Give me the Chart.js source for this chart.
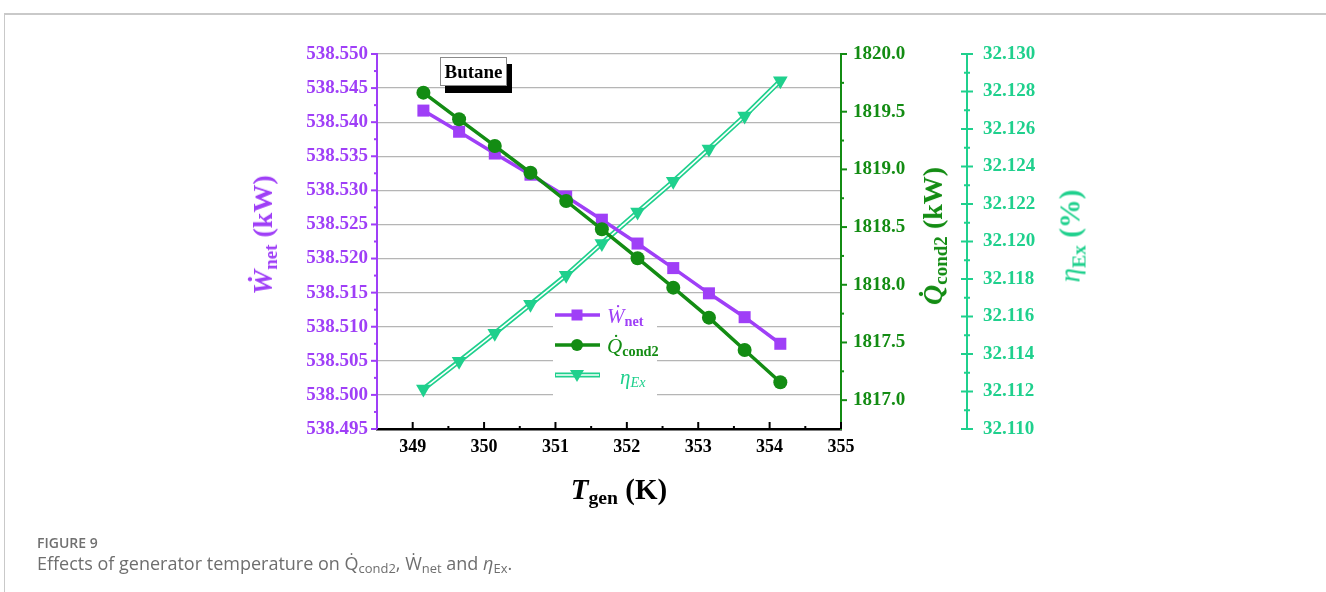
<!DOCTYPE html>
<html>
<head>
<meta charset="utf-8">
<script src="https://cdn.jsdelivr.net/npm/chart.js@4/dist/chart.umd.min.js"></script>
<style>
html,body{margin:0;padding:0;background:#fff;}
body{width:1326px;height:592px;position:relative;overflow:hidden;}
#frame{position:absolute;left:4px;top:13px;width:1340px;height:620px;border-top:2px solid #c9c9c9;border-left:1px solid #c9c9c9;}
#c{position:absolute;left:0;top:0;}
.t{position:absolute;white-space:nowrap;font-family:"Liberation Serif","Times New Roman",serif;font-weight:bold;line-height:1;}
.rot{transform:translate(-50%,-50%) rotate(-90deg);}
.ctr{transform:translate(-50%,-50%);}
sub{font-size:0.68em;vertical-align:-0.28em;line-height:0;}
.lg{position:absolute;white-space:nowrap;font-family:"Liberation Serif",serif;font-size:21px;line-height:1;transform:translateY(-50%);}
#butane{position:absolute;left:440px;top:57px;width:65px;height:27px;border:1px solid #8a8a8a;background:#fff;box-shadow:5px 7px 0 #000;font-family:"Liberation Serif",serif;font-weight:bold;font-size:19px;line-height:28px;text-align:center;color:#000;}
#fig{position:absolute;left:37px;top:536px;font-family:"Open Sans","Noto Sans",sans-serif;font-size:14px;font-weight:600;color:#707070;line-height:1;}
#cap{position:absolute;left:37px;top:553px;font-family:"Open Sans","Noto Sans",sans-serif;font-size:18px;color:#6e6e6e;line-height:1.2;white-space:nowrap;}
#cap sub{font-size:0.72em;vertical-align:-0.25em;}
</style>
</head>
<body>
<div id="frame"></div>
<canvas id="c" width="1326" height="592"></canvas>

<div id="butane">Butane</div>

<div class="t rot" style="left:263px;top:235px;font-size:28px;color:#9F3FF7;"><i>W&#x0307;</i><sub>net</sub> (kW)</div>
<div class="t rot" style="left:933px;top:236px;font-size:28px;color:#138C13;"><i>Q&#x0307;</i><sub>cond2</sub> (kW)</div>
<div class="t rot" style="left:1070px;top:236px;font-size:29px;color:#1FD08D;"><i style="font-weight:normal">&eta;</i><sub>Ex</sub> (%)</div>
<div class="t ctr" style="left:619px;top:489px;font-size:29px;color:#000;"><i>T</i><sub>gen</sub> (K)</div>

<div class="lg" style="left:607px;top:316px;color:#9F3FF7;"><i>W&#x0307;</i><sub style="font-weight:bold">net</sub></div>
<div class="lg" style="left:607px;top:346px;color:#138C13;"><i>Q&#x0307;</i><sub style="font-weight:bold">cond2</sub></div>
<div class="lg" style="left:620px;top:377px;color:#1FD08D;"><i>&eta;</i><sub><i>Ex</i></sub></div>

<div id="fig">FIGURE 9</div>
<div id="cap">Effects of generator temperature on <i style="font-style:normal">Q&#x0307;</i><sub>cond2</sub>, <i style="font-style:normal">W&#x0307;</i><sub>net</sub> and <i>&eta;</i><sub>Ex</sub>.</div>

<script>
// ---- data ----
const T_GEN   = [349.15, 349.65, 350.15, 350.65, 351.15, 351.65, 352.15, 352.65, 353.15, 353.65, 354.15];
const W_NET   = [538.5417, 538.5386, 538.5354, 538.5323, 538.5291, 538.5257, 538.5222, 538.5186, 538.5149, 538.5114, 538.5075];
const Q_COND2 = [1819.665, 1819.434, 1819.203, 1818.971, 1818.726, 1818.481, 1818.230, 1817.975, 1817.715, 1817.435, 1817.155];
const ETA_EX  = [32.11213, 32.11361, 32.11511, 32.11665, 32.11820, 32.11990, 32.12157, 32.12321, 32.12494, 32.12669, 32.12857];

const X_TICKS = [349, 350, 351, 352, 353, 354, 355];
const W_TICKS = [538.495, 538.500, 538.505, 538.510, 538.515, 538.520, 538.525, 538.530, 538.535, 538.540, 538.545, 538.550];
const Q_TICKS = [1817.0, 1817.5, 1818.0, 1818.5, 1819.0, 1819.5, 1820.0];
const E_TICKS = [32.110, 32.112, 32.114, 32.116, 32.118, 32.120, 32.122, 32.124, 32.126, 32.128, 32.130];

const PURPLE = '#9F3FF7';
const GREEN  = '#138C13';
const TEAL   = '#1FD08D';

const pts = (ys) => T_GEN.map((x, i) => ({x: x, y: ys[i]}));
const mids = (arr) => arr.slice(0, -1).map((v, i) => (v + arr[i + 1]) / 2);
const tickFont = {family: 'Liberation Serif', size: 19, weight: 'bold'};

const tickPlugin = {
  id: 'axisTicks',
  afterDraw(chart) {
    const ctx = chart.ctx, s = chart.scales;
    ctx.save();
    ctx.lineCap = 'butt';
    const line = (x1, y1, x2, y2, c, w) => {
      ctx.strokeStyle = c; ctx.lineWidth = w;
      ctx.beginPath(); ctx.moveTo(x1, y1); ctx.lineTo(x2, y2); ctx.stroke();
    };
    let x0 = s.yW.right;
    W_TICKS.forEach(v => { const y = s.yW.getPixelForValue(v); line(x0 - 6, y, x0, y, PURPLE, 2); });
    mids(W_TICKS).forEach(v => { const y = s.yW.getPixelForValue(v); line(x0 - 3, y, x0, y, PURPLE, 2); });
    const y0 = s.x.top;
    X_TICKS.forEach(v => { const x = s.x.getPixelForValue(v); line(x, y0, x, y0 - 7, '#000', 2); });
    mids(X_TICKS).forEach(v => { const x = s.x.getPixelForValue(v); line(x, y0, x, y0 - 3, '#000', 2); });
    x0 = s.yQ.left;
    Q_TICKS.forEach(v => { const y = s.yQ.getPixelForValue(v); line(x0, y, x0 + 6, y, GREEN, 2); });
    mids(Q_TICKS).forEach(v => { const y = s.yQ.getPixelForValue(v); line(x0, y, x0 + 3, y, GREEN, 2); });
    x0 = s.yE.left;
    E_TICKS.forEach(v => { const y = s.yE.getPixelForValue(v); line(x0 - 6, y, x0 + 6, y, TEAL, 2); });
    mids(E_TICKS).forEach(v => { const y = s.yE.getPixelForValue(v); line(x0 - 3, y, x0 + 3, y, TEAL, 2); });
    ctx.restore();
  }
};

const legendPlugin = {
  id: 'legendBox',
  afterDatasetsDraw(chart) {
    const ctx = chart.ctx;
    ctx.save();
    ctx.fillStyle = '#fff';
    ctx.fillRect(553, 299, 104, 99);
    const x1 = 555, x2 = 600, xm = 577;
    let y = 315;
    ctx.strokeStyle = PURPLE; ctx.lineWidth = 3.5;
    ctx.beginPath(); ctx.moveTo(x1, y); ctx.lineTo(x2, y); ctx.stroke();
    ctx.fillStyle = PURPLE; ctx.fillRect(xm - 5.5, y - 5.5, 11, 11);
    y = 345;
    ctx.strokeStyle = GREEN;
    ctx.beginPath(); ctx.moveTo(x1, y); ctx.lineTo(x2, y); ctx.stroke();
    ctx.fillStyle = GREEN; ctx.beginPath(); ctx.arc(xm, y, 6, 0, Math.PI * 2); ctx.fill();
    y = 375;
    ctx.strokeStyle = TEAL; ctx.lineWidth = 5;
    ctx.beginPath(); ctx.moveTo(x1, y); ctx.lineTo(x2, y); ctx.stroke();
    ctx.strokeStyle = '#fff'; ctx.lineWidth = 1.6;
    ctx.beginPath(); ctx.moveTo(x1 + 1, y); ctx.lineTo(x2 - 1, y); ctx.stroke();
    ctx.fillStyle = TEAL;
    ctx.beginPath(); ctx.moveTo(xm - 7, y - 5); ctx.lineTo(xm + 7, y - 5); ctx.lineTo(xm, y + 7); ctx.closePath(); ctx.fill();
    ctx.restore();
  }
};

new Chart(document.getElementById('c'), {
  type: 'line',
  data: {
    datasets: [
      {label: 'Q_cond2', data: pts(Q_COND2), yAxisID: 'yQ', borderColor: GREEN, backgroundColor: GREEN,
       borderWidth: 3.5, pointStyle: 'circle', pointRadius: 7, pointBorderWidth: 0, order: 1},
      {label: 'W_net', data: pts(W_NET), yAxisID: 'yW', borderColor: PURPLE, backgroundColor: PURPLE,
       borderWidth: 3.5, pointStyle: 'rect', pointRadius: 8.5, pointBorderWidth: 0, order: 2},
      {label: 'eta_markers', data: pts(ETA_EX), yAxisID: 'yE', showLine: false, borderColor: TEAL, backgroundColor: TEAL,
       pointStyle: 'triangle', pointRotation: 180, pointRadius: 8.5, pointBorderWidth: 0, order: 3},
      {label: 'eta_inner', data: pts(ETA_EX), yAxisID: 'yE', borderColor: '#ffffff', borderWidth: 1.6, pointRadius: 0, order: 4},
      {label: 'eta_outer', data: pts(ETA_EX), yAxisID: 'yE', borderColor: TEAL, borderWidth: 5, pointRadius: 0, order: 5}
    ]
  },
  options: {
    responsive: false,
    animation: false,
    events: [],
    layout: {padding: {left: 281, right: 269, top: 54, bottom: 123}},
    plugins: {legend: {display: false}, tooltip: {enabled: false}},
    scales: {
      x: {
        type: 'linear', position: 'bottom', min: 348.5, max: 355,
        afterBuildTicks: s => { s.ticks = X_TICKS.map(v => ({value: v})); },
        afterFit: s => { s.height = 40; },
        grid: {display: false, drawTicks: false},
        border: {display: true, color: '#000', width: 2.5},
        ticks: {color: '#000', font: {family: 'Liberation Serif', size: 18, weight: 'bold'}, padding: 8,
                maxRotation: 0, autoSkip: false, callback: v => String(v)}
      },
      yW: {
        type: 'linear', position: 'left', min: 538.495, max: 538.550,
        afterBuildTicks: s => { s.ticks = W_TICKS.map(v => ({value: v})); },
        afterFit: s => { s.width = 96; },
        grid: {drawTicks: false, lineWidth: 1.3,
               color: c => (c.tick && c.tick.value === W_TICKS[0]) ? 'rgba(0,0,0,0)' : '#b5b5b5'},
        border: {display: true, color: PURPLE, width: 2},
        ticks: {color: PURPLE, font: tickFont, padding: 9, autoSkip: false, callback: v => v.toFixed(3)}
      },
      yQ: {
        type: 'linear', position: 'right', weight: 0, min: 1816.75, max: 1820.0,
        afterBuildTicks: s => { s.ticks = Q_TICKS.map(v => ({value: v})); },
        afterFit: s => { s.width = 126; },
        grid: {display: false, drawTicks: false},
        border: {display: true, color: GREEN, width: 2},
        ticks: {color: GREEN, font: tickFont, padding: 12, autoSkip: false, callback: v => v.toFixed(1)}
      },
      yE: {
        type: 'linear', position: 'right', weight: 1, min: 32.110, max: 32.130,
        afterBuildTicks: s => { s.ticks = E_TICKS.map(v => ({value: v})); },
        afterFit: s => { s.width = 90; },
        grid: {display: false, drawTicks: false},
        border: {display: true, color: TEAL, width: 2},
        ticks: {color: TEAL, font: tickFont, padding: 16, autoSkip: false, callback: v => v.toFixed(3)}
      }
    }
  },
  plugins: [tickPlugin, legendPlugin]
});
</script>
</body>
</html>
